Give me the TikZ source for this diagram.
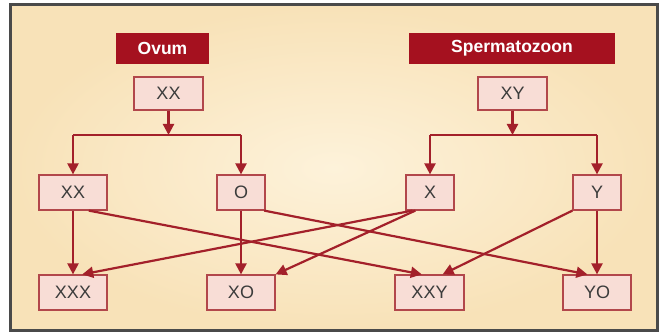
\documentclass[tikz,border=0pt]{standalone}
\usepackage{fontspec}
\setmainfont{Liberation Sans}
\usetikzlibrary{arrows.meta}
\definecolor{framegray}{HTML}{4A4A4A}
\definecolor{bgin}{HTML}{FDF2DA}
\definecolor{bgout}{HTML}{F8E2B8}
\definecolor{headred}{HTML}{A5111F}
\definecolor{boxline}{HTML}{B2474B}
\definecolor{boxfill}{HTML}{F8DDD6}
\definecolor{linered}{HTML}{A3202A}
\definecolor{textgray}{HTML}{3C3C3C}

\begin{document}
\begin{tikzpicture}[x=1pt, y=1pt,
  main/.style = {draw=boxline, fill=boxfill, line width=1.2pt, minimum height=35pt, inner sep=0pt, text=textgray, font=\fontsize{18}{18}\selectfont},
  head/.style = {fill=headred, text=white, minimum height=31pt, inner sep=0pt, font=\bfseries\fontsize{17.5}{17.5}\selectfont},
  wire/.style = {draw=linered, line width=2.2pt},
  link/.style = {wire, -{Triangle[length=11pt,width=11pt]}}]
  \useasboundingbox (0,0) rectangle (664,336);
  % background and frame
  \shade[inner color=bgin, outer color=bgout] (11,6) rectangle (656,330);
  \draw[framegray, line width=3pt] (10,5) rectangle (657,331);
  % parents
  \node[head, minimum width=93pt] (ovum) at (162.5,287.5) {Ovum};
  \node[head, minimum width=206pt] (sperm) at (512,287.5) {Spermatozoon};
  \node[main, minimum width=69pt, minimum height=33pt] (xxp) at (168.5,242.5) {XX};
  \node[main, minimum width=69pt, minimum height=33pt] (xyp) at (512.5,242.5) {XY};
  % gametes
  \node[main, minimum width=68pt] (xx) at (73,143.5) {XX};
  \node[main, minimum width=48pt] (o) at (241,143.5) {O};
  \node[main, minimum width=48pt] (x) at (430,143.5) {X};
  \node[main, minimum width=48pt] (y) at (597,143.5) {Y};
  % zygotes
  \node[main, minimum width=68pt] (xxx) at (73,43.5) {XXX};
  \node[main, minimum width=68pt] (xo) at (241,43.5) {XO};
  \node[main, minimum width=69pt] (xxy) at (429.5,43.5) {XXY};
  \node[main, minimum width=68pt] (yo) at (597,43.5) {YO};
  % branching
  \coordinate (j1) at (168.5,201);
  \coordinate (j2) at (512.5,201);
  \draw[link] (xxp) -- (j1);
  \draw[link] (xyp) -- (j2);
  \draw[wire] (xx.north |- j1) -- (o.north |- j1);
  \draw[wire] (x.north |- j2) -- (y.north |- j2);
  \draw[link] (xx.north |- j1) -- (xx.north);
  \draw[link] (o.north |- j1) -- (o.north);
  \draw[link] (x.north |- j2) -- (x.north);
  \draw[link] (y.north |- j2) -- (y.north);
  % fertilisation
  \draw[link] (xx) -- (xxx);
  \draw[link] (o) -- (xo);
  \draw[link] (y) -- (yo);
  \draw[link] (xx.-49) -- (xxy.113);
  \draw[link] (o.-38) -- (yo.118);
  \draw[link] (x.226) -- (xxx.63);
  \draw[link] (x.231) -- (xo.north east);
  \draw[link] (y.south west) -- (xxy.54);
\end{tikzpicture}
\end{document}
